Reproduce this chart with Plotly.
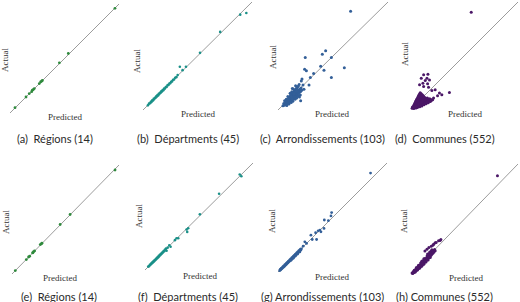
import plotly.graph_objects as go

W, H = 520, 302

# ---- data: (predicted, actual) on a normalised 0-100 scale ----
a_pts = [(4.6, 4.9), (14.7, 14.7), (17.7, 17.8), (19.9, 19.6), (20.5, 20.9), (21.4, 21.5), (22.3, 22.4),
         (26.9, 27.0), (28.1, 28.5), (29.0, 29.2), (29.7, 29.8), (45.3, 46.0), (53.5, 54.6), (96.3, 96.0)]

e_pts = [(3.1, 3.1), (13.4, 13.2), (15.5, 15.6), (16.5, 16.3), (19.3, 19.3), (19.6, 19.6), (20.2, 20.5),
         (21.1, 21.2), (26.4, 27.0), (27.3, 27.6), (28.0, 28.2), (45.0, 45.4), (54.3, 54.6), (96.3, 95.4)]

b_pts = [(33.8, 40.0), (36.3, 36.9), (39.4, 40.0), (52.3, 52.9), (70.8, 72.3), (89.2, 88.3), (94.8, 89.8),
         (4.5, 4.3), (5.5, 5.9), (6.5, 6.2), (7.2, 7.6), (7.8, 7.5), (8.5, 8.9), (9.2, 8.8), (9.8, 10.3),
         (10.4, 10.1), (11.0, 11.4), (11.6, 11.3), (12.2, 12.7), (12.8, 12.5), (13.3, 13.8), (13.9, 13.5),
         (14.5, 15.0), (15.0, 14.7), (15.6, 16.0), (16.2, 15.9), (16.8, 17.2), (17.4, 17.1), (18.0, 18.4),
         (18.7, 18.4), (19.4, 19.9), (20.1, 19.8), (20.9, 21.3), (21.7, 21.4), (22.6, 23.0), (23.4, 23.1),
         (24.2, 24.6), (25.0, 24.8), (25.8, 26.2), (26.7, 26.5), (27.6, 28.0), (28.5, 28.3), (29.5, 29.9),
         (30.6, 30.4), (31.8, 32.3)]

f_pts = [(38.5, 37.8), (40.0, 39.0), (39.1, 35.6), (50.8, 52.0), (68.6, 71.2), (87.7, 89.2), (89.2, 87.6),
         (19.4, 20.1), (22.5, 23.2), (23.7, 21.7), (27.7, 27.9), (29.2, 29.7), (30.8, 29.7), (20.0, 18.0),
         (3.0, 3.2), (3.8, 3.6), (4.5, 4.8), (5.1, 4.9), (5.7, 6.0), (6.2, 6.0), (6.8, 7.1), (7.3, 7.0),
         (7.8, 8.1), (8.3, 8.0), (8.8, 9.1), (9.3, 9.0), (9.8, 10.1), (10.3, 10.0), (10.8, 11.2), (11.3, 11.0),
         (11.8, 12.1), (12.3, 12.0), (12.8, 13.2), (13.3, 13.0), (13.8, 14.1), (14.3, 14.0), (14.8, 15.2),
         (15.4, 15.1), (16.0, 16.3), (16.6, 16.3), (17.2, 17.6), (17.8, 17.5), (18.4, 18.9), (19.0, 18.7),
         (21.0, 20.9)]

c_pts = [(66.0, 91.4), (43.3, 54.8), (40.3, 51.7), (48.5, 48.6), (24.8, 48.6), (38.8, 40.6), (60.3, 39.1),
         (24.2, 37.8), (25.8, 36.3), (41.8, 36.9), (32.4, 33.8), (48.5, 30.2), (29.4, 30.2), (21.8, 28.6),
         (21.2, 26.8), (28.2, 23.1), (22.7, 23.1), (23.6, 19.1), (21.2, 18.5), (20.6, 8.6), (20.3, 13.8),
         (4.5, 4.0), (5.2, 6.1), (5.8, 4.3), (6.3, 5.5), (6.8, 7.4), (7.0, 5.0), (7.4, 6.6), (7.9, 8.5),
         (8.1, 5.8), (8.5, 7.3), (8.8, 9.4), (9.1, 6.4), (9.4, 8.1), (9.6, 10.5), (9.9, 7.0), (10.2, 8.9),
         (10.4, 11.6), (10.7, 7.6), (10.9, 9.8), (11.2, 12.4), (11.4, 8.4), (11.7, 10.6), (11.9, 13.5),
         (12.1, 9.0), (12.4, 11.3), (12.6, 14.4), (12.8, 9.7), (13.1, 12.1), (13.3, 15.6), (13.5, 10.4),
         (13.8, 12.9), (14.0, 16.4), (14.2, 11.1), (14.5, 13.7), (14.7, 17.3), (14.9, 11.8), (15.2, 14.5),
         (15.4, 18.2), (15.6, 12.4), (15.9, 15.3), (16.1, 19.0), (16.3, 13.2), (16.6, 16.0), (16.8, 20.2),
         (17.0, 14.0), (17.3, 16.9), (17.5, 21.0), (17.8, 14.8), (18.0, 17.8), (18.3, 22.0), (18.6, 15.5),
         (18.9, 18.6), (19.2, 23.5), (19.6, 16.4), (20.0, 19.4), (20.5, 17.2), (21.0, 20.3), (21.5, 18.3),
         (7.5, 10.0), (9.0, 12.5), (11.0, 15.5), (12.5, 17.0), (14.0, 19.5), (10.0, 5.5), (12.0, 7.0),
         (13.5, 8.0), (15.5, 10.0), (17.0, 11.0), (18.5, 13.0), (16.0, 22.5), (13.0, 20.0), (19.5, 12.0),
         (6.0, 8.5), (8.0, 4.2), (11.5, 14.0), (13.0, 10.5), (15.0, 16.0), (17.5, 19.0), (9.5, 9.5),
         (12.2, 12.5), (14.6, 14.8), (16.9, 17.4)]

g_pts = [(84.9, 90.8), (49.2, 54.5), (48.6, 51.4), (42.5, 47.7), (46.2, 47.1), (42.2, 40.0), (38.5, 38.5),
         (36.9, 37.8), (34.5, 36.0), (39.4, 36.9), (30.2, 33.8), (35.4, 29.8), (31.4, 29.8), (24.6, 27.7),
         (26.2, 26.2), (23.1, 23.7),
         (1.5, 1.2), (2.0, 2.3), (2.4, 1.9), (2.9, 3.2), (3.3, 2.8), (3.8, 4.1), (4.2, 3.6), (4.6, 4.9),
         (5.0, 4.4), (5.4, 5.7), (5.8, 5.1), (6.2, 6.5), (6.6, 5.9), (7.0, 7.3), (7.4, 6.7), (7.8, 8.1),
         (8.2, 7.5), (8.6, 8.9), (9.0, 8.3), (9.4, 9.7), (9.8, 9.1), (10.2, 10.5), (10.6, 9.9), (11.0, 11.3),
         (11.4, 10.7), (11.8, 12.1), (12.2, 11.5), (12.6, 12.9), (13.0, 12.3), (13.4, 13.7), (13.8, 13.0),
         (14.2, 14.5), (14.6, 13.8), (15.0, 15.3), (15.4, 14.6), (15.8, 16.1), (16.2, 15.4), (16.6, 16.9),
         (17.0, 16.2), (17.4, 17.7), (17.8, 17.0), (18.2, 18.5), (18.6, 17.8), (19.0, 19.3), (19.4, 18.6),
         (19.8, 20.1), (20.2, 19.4), (20.6, 20.9), (21.0, 20.2), (21.5, 21.3), (12.0, 10.8), (14.0, 12.6),
         (16.0, 14.6), (18.0, 16.5), (20.0, 18.4)]

d_pts = [(56.3, 90.4),
         (11.8, 31.9), (15.8, 32.5), (9.6, 28.8), (14.9, 28.8), (13.3, 26.6), (17.3, 27.2), (11.1, 24.1),
         (15.5, 23.5), (8.0, 22.6), (11.8, 21.1), (16.4, 20.4), (19.5, 17.3), (22.6, 18.0), (26.6, 14.9),
         (24.8, 12.4), (28.8, 13.3), (35.9, 15.5), (21.1, 10.2),
         (1.0, 0.6), (1.8, 1.2), (2.6, 0.5), (3.4, 1.1), (4.6, 0.9), (6.0, 1.3),
         (2.2, 2.1), (3.5, 2.4), (5.1, 1.9), (6.6, 2.3), (8.1, 2.0),
         (2.6, 3.2), (4.0, 3.0), (5.6, 3.3), (7.1, 2.9), (8.6, 3.2), (10.1, 2.8),
         (3.1, 4.1), (4.4, 4.3), (6.0, 3.9), (7.6, 4.2), (9.1, 4.0), (10.6, 4.3), (12.1, 3.9),
         (3.5, 5.2), (5.0, 4.9), (6.6, 5.3), (8.0, 5.0), (9.6, 5.2), (11.1, 4.8), (12.6, 5.1), (14.1, 4.9),
         (4.0, 6.1), (5.6, 6.3), (7.0, 5.9), (8.6, 6.2), (10.0, 5.8), (11.6, 6.2), (13.1, 5.9), (14.6, 6.1),
         (16.1, 5.8),
         (4.4, 7.2), (6.1, 6.9), (7.5, 7.3), (9.1, 7.0), (10.5, 7.2), (12.0, 6.9), (13.6, 7.1), (15.0, 7.2),
         (16.6, 6.9), (18.1, 7.1),
         (5.0, 8.1), (6.5, 8.3), (8.1, 7.9), (9.5, 8.2), (11.0, 8.0), (12.6, 8.2), (14.0, 7.9), (15.6, 8.1),
         (17.1, 8.3), (19.0, 8.0),
         (5.4, 9.2), (7.0, 9.0), (8.6, 9.3), (10.0, 8.9), (11.6, 9.1), (13.1, 9.2), (14.5, 8.9), (16.1, 9.1),
         (6.0, 10.1), (7.5, 10.3), (9.1, 9.9), (10.6, 10.2), (12.0, 10.0), (13.6, 10.3),
         (6.5, 11.2), (8.0, 10.9), (9.5, 11.1), (11.1, 11.2), (12.5, 11.0),
         (7.0, 12.1), (8.6, 12.2), (10.0, 11.9), (11.5, 12.3),
         (7.4, 13.2), (9.1, 13.0), (10.5, 13.3),
         (8.0, 14.1), (9.5, 14.3), (8.6, 15.2),
         (3.0, 2.0), (4.5, 2.2), (5.5, 2.8), (6.8, 3.8), (7.2, 4.8), (9.0, 5.6), (10.2, 6.6), (11.4, 7.6),
         (12.8, 8.6), (13.8, 9.6), (15.3, 10.2), (17.5, 9.5), (18.6, 8.8), (20.2, 8.6), (2.0, 1.5), (1.4, 1.9)]

h_pts = [(80.8, 89.3),
         (27.9, 31.4), (25.7, 30.2), (23.5, 28.7), (21.1, 27.1), (18.9, 25.3), (16.7, 24.1), (14.9, 22.6),
         (13.0, 21.0), (27.2, 30.5), (22.6, 28.4), (20.4, 26.2),
         (1.0, 0.8), (1.6, 0.5), (2.0, 1.9), (2.4, 1.2), (2.9, 2.6), (3.2, 1.6), (3.6, 3.1), (4.0, 2.4),
         (4.3, 4.0), (4.7, 3.0), (5.1, 4.6), (5.5, 3.6), (5.8, 5.4), (6.2, 4.2), (6.6, 6.0), (7.0, 5.0),
         (7.3, 6.8), (7.7, 5.6), (8.1, 7.5), (8.5, 6.3), (8.8, 8.3), (9.2, 7.0), (9.6, 9.1), (10.0, 7.8),
         (10.3, 9.8), (10.7, 8.5), (11.1, 10.6), (11.5, 9.3), (11.8, 11.4), (12.2, 10.0), (12.6, 12.3),
         (13.0, 10.8), (13.3, 13.1), (13.7, 11.6), (14.1, 13.9), (14.5, 12.4), (14.8, 14.8), (15.2, 13.2),
         (15.6, 15.6), (16.0, 14.0), (16.3, 16.4), (16.7, 14.8), (17.1, 17.2), (17.5, 15.6), (17.8, 18.0),
         (18.2, 16.5), (18.6, 18.9), (19.0, 17.3), (19.4, 19.7), (19.8, 18.2), (20.2, 20.6), (20.6, 19.1),
         (21.0, 21.4), (21.5, 20.1), (22.0, 22.3), (22.6, 21.2),
         (3.0, 3.5), (5.0, 5.8), (7.0, 7.9), (9.0, 10.1), (11.0, 12.0), (13.0, 14.1), (15.0, 16.3),
         (17.0, 18.6), (19.0, 20.8), (4.0, 1.8), (6.0, 3.6), (8.0, 5.3), (10.0, 7.1), (12.0, 8.9),
         (14.0, 10.8), (16.0, 12.7), (18.0, 14.9), (2.5, 2.0), (4.5, 4.1), (6.5, 5.4), (8.5, 7.7),
         (10.5, 9.3), (12.5, 11.4), (14.5, 13.3), (16.5, 15.5), (18.5, 17.6), (20.5, 20.0), (15.5, 18.2),
         (17.5, 20.0), (19.5, 22.0), (12.0, 13.8), (10.0, 11.5)]

identity = [0, 100]

captions = ["(a)\u00a0 Régions (14)", "(b)\u00a0 Départments (45)", "(c)\u00a0 Arrondissements (103)",
            "(d)\u00a0 Communes (552)", "(e)\u00a0 Régions (14)", "(f)\u00a0 Départments (45)",
            "(g) Arrondissements (103)", "(h) Communes (552)"]

colors = ["#2f8a3d", "#1a9088", "#335f98", "#4b1767", "#2f8a3d", "#1a9088", "#335f98", "#4b1767"]
series = [a_pts, b_pts, c_pts, d_pts, e_pts, f_pts, g_pts, h_pts]

# layout (pixel boxes of each panel: x0, x1, ytop, ybottom) and label positions
boxes = [(10, 119, 4, 113), (143, 252, 2, 110), (278, 388, 2, 110), (411, 518, 2, 109),
         (12, 119, 165, 274), (145, 253, 163, 270), (278, 387, 163, 272), (411, 518, 164, 274)]
pred_pos = [(65, 117), (198, 114), (332, 114), (465, 114), (60, 278), (200, 276), (332, 277), (466, 278)]
act_pos = [(5, 60), (137, 61), (273, 57), (405, 54), (6, 222), (139, 216), (272, 221), (404, 221)]
cap_pos = [(55, 138), (188, 138), (322, 138), (445, 138), (59, 296), (188, 296), (322, 296), (444, 296)]
msizes = [2.8, 2.6, 3, 3, 2.8, 2.6, 2.8, 3]

fig = go.Figure()
layout = {}
annotations = []
for i, (pts, col, box) in enumerate(zip(series, colors, boxes)):
    n = "" if i == 0 else str(i + 1)
    x0, x1, yt, yb = box
    fig.add_trace(go.Scatter(x=identity, y=identity, mode="lines",
                             line=dict(color="#9c9c9c", width=1),
                             xaxis="x" + n, yaxis="y" + n, hoverinfo="skip", cliponaxis=False))
    fig.add_trace(go.Scatter(x=[p[0] for p in pts], y=[p[1] for p in pts], mode="markers",
                             marker=dict(size=msizes[i], color=col, line=dict(width=0)),
                             xaxis="x" + n, yaxis="y" + n, cliponaxis=False))
    layout["xaxis" + n] = dict(domain=[x0 / W, x1 / W], range=[0, 100], visible=False,
                               anchor="y" + n, fixedrange=True)
    layout["yaxis" + n] = dict(domain=[1 - yb / H, 1 - yt / H], range=[0, 100], visible=False,
                               anchor="x" + n, fixedrange=True)
    px, py = pred_pos[i]
    annotations.append(dict(text="Predicted", x=px / W, y=1 - py / H, xref="paper", yref="paper",
                            showarrow=False, xanchor="center", yanchor="middle",
                            font=dict(family="Liberation Serif", size=9, color="#333")))
    ax, ay = act_pos[i]
    annotations.append(dict(text="Actual", x=ax / W, y=1 - ay / H, xref="paper", yref="paper",
                            showarrow=False, xanchor="center", yanchor="middle", textangle=-90,
                            font=dict(family="Liberation Serif", size=9, color="#333")))
    cx, cy = cap_pos[i]
    annotations.append(dict(text=captions[i], x=cx / W, y=1 - cy / H, xref="paper", yref="paper",
                            showarrow=False, xanchor="center", yanchor="middle",
                            font=dict(family="Lato", size=11, color="#2a2a2a")))

fig.update_layout(width=W, height=H, autosize=False, margin=dict(l=0, r=0, t=0, b=0),
                  paper_bgcolor="white", plot_bgcolor="white", showlegend=False,
                  annotations=annotations, **layout)

fig.write_html("out.html", config={"displayModeBar": False},
               post_script="document.body.style.margin='0';document.body.style.padding='0';"
                           "document.body.style.overflow='hidden';")
